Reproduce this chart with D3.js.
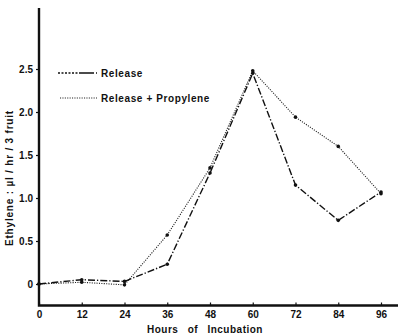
<!DOCTYPE html>
<html>
<head>
<meta charset="utf-8">
<script src="https://cdn.jsdelivr.net/npm/d3@7"></script>
<style>
  html, body { margin: 0; padding: 0; background: #fff; }
  svg { display: block; }
  text { font-family: "Liberation Sans", Arial, Helvetica, sans-serif; font-weight: bold; fill: #111; }
</style>
</head>
<body>
<script>
// Hours of incubation
const hours = [0, 12, 24, 36, 48, 60, 72, 84, 96];
// Ethylene (µl / hr / 3 fruit)
const release = [0, 0.05, 0.03, 0.23, 1.29, 2.45, 1.15, 0.74, 1.07];
const releasePropylene = [0, 0.02, -0.01, 0.57, 1.35, 2.48, 1.94, 1.6, 1.05];
// Axis ticks
const xTicks = [0, 12, 24, 36, 48, 60, 72, 84, 96];
const yTicks = [0, 0.5, 1.0, 1.5, 2.0, 2.5];
const yTickLabels = ["0", "0.5", "1.0", "1.5", "2.0", "2.5"];
const seriesNames = ["Release", "Release + Propylene"];

const W = 398, H = 335;
const svg = d3.select("body").append("svg").attr("width", W).attr("height", H);

const x = d3.scaleLinear().domain([0, 96]).range([39, 381]);
const y = d3.scaleLinear().domain([0, 2.5]).range([284, 69]);

const axisX0 = 39, axisY0 = y(-0.25);

// Axis frame: vertical spine from the top down to the baseline, baseline to the right edge
svg.append("path")
  .attr("d", `M${axisX0},8 V${axisY0} H${W}`)
  .attr("fill", "none").attr("stroke", "#111").attr("stroke-width", 2.4);

// Y axis ticks and labels
const yAxis = d3.axisLeft(y).tickValues(yTicks)
  .tickFormat((d, i) => yTickLabels[i]).tickSize(3).tickPadding(3);
const gy = svg.append("g").attr("transform", `translate(${axisX0},0)`).call(yAxis);
gy.select(".domain").remove();
gy.selectAll("line").attr("stroke", "#111").attr("stroke-width", 1.2);
gy.selectAll("text").attr("font-size", 10).attr("font-family", null).attr("fill", "#111")
  .style("font-weight", "bold");

// X axis ticks and labels
const xAxis = d3.axisBottom(x).tickValues(xTicks).tickSize(-3).tickPadding(5);
const gx = svg.append("g").attr("transform", `translate(0,${axisY0})`).call(xAxis);
gx.select(".domain").remove();
gx.selectAll("line").attr("stroke", "#111").attr("stroke-width", 1.2);
gx.selectAll("text").attr("font-size", 10).attr("font-family", null).attr("fill", "#111")
  .style("font-weight", "bold");

// Axis titles
svg.append("text")
  .attr("x", 205).attr("y", 333)
  .attr("text-anchor", "middle").attr("font-size", 10)
  .style("word-spacing", "6px").style("letter-spacing", "0.5px")
  .text("Hours of Incubation");

svg.append("text")
  .attr("transform", `translate(13,${178}) rotate(-90)`)
  .attr("text-anchor", "middle").attr("font-size", 10)
  .style("letter-spacing", "0.8px")
  .text("Ethylene : µl / hr / 3 fruit");

// Series lines
const line = d3.line().x((d, i) => x(hours[i])).y(d => y(d));

const releaseDash = "7,2,1.3,2";
const propDash = "1.1,1.3";

svg.append("path").datum(releasePropylene)
  .attr("d", line).attr("fill", "none")
  .attr("stroke", "#222").attr("stroke-width", 1.1)
  .attr("stroke-dasharray", propDash);

svg.append("path").datum(release)
  .attr("d", line).attr("fill", "none")
  .attr("stroke", "#111").attr("stroke-width", 1.4)
  .attr("stroke-dasharray", releaseDash);

// Data point markers
[release, releasePropylene].forEach(s => {
  svg.append("g").selectAll("circle").data(s).enter().append("circle")
    .attr("cx", (d, i) => x(hours[i])).attr("cy", d => y(d))
    .attr("r", 1.8).attr("fill", "#111");
});

// Legend
const leg = svg.append("g");
leg.append("line").attr("x1", 58).attr("x2", 97).attr("y1", 73).attr("y2", 73)
  .attr("stroke", "#111").attr("stroke-width", 1.4)
  .attr("stroke-dasharray", "2,1.5,2,1.5,2,1.5,2,1.5,2,1.5,2,1.5,15");
leg.append("text").attr("x", 101).attr("y", 77).attr("font-size", 10)
  .style("letter-spacing", "0.6px").text(seriesNames[0]);

leg.append("line").attr("x1", 60).attr("x2", 97).attr("y1", 98).attr("y2", 98)
  .attr("stroke", "#222").attr("stroke-width", 1.1)
  .attr("stroke-dasharray", propDash);
leg.append("text").attr("x", 101).attr("y", 102).attr("font-size", 10)
  .style("letter-spacing", "0.6px").text(seriesNames[1]);
</script>
</body>
</html>
